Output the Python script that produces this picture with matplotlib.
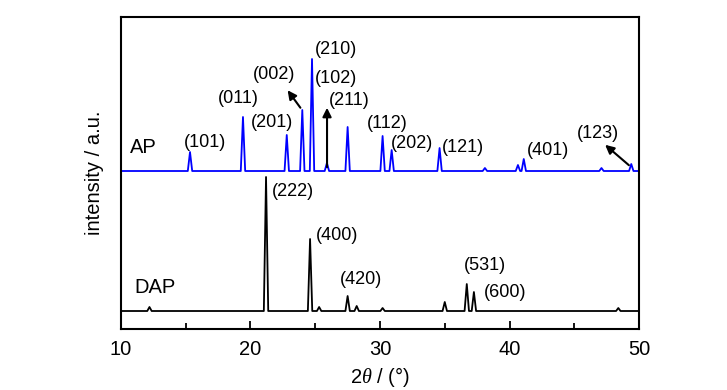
import matplotlib
matplotlib.use('Agg')
import matplotlib.pyplot as plt
from matplotlib.ticker import MultipleLocator
import numpy as np

plt.rcParams['font.family'] = ['Liberation Sans', 'DejaVu Sans']
plt.rcParams['mathtext.fontset'] = 'custom'
plt.rcParams['mathtext.it'] = 'Liberation Serif:italic'

# baselines of the two stacked patterns (arbitrary units)
ap_base = 158
dap_base = 18

# AP peaks: 2theta, height above baseline
ap_pos = [15.33, 19.42, 22.8, 24.0, 24.75, 25.9, 27.5, 30.2, 30.9, 34.6, 38.1, 40.65, 41.1, 47.1, 49.4]
ap_int = [19, 54, 36, 61, 112, 8, 44, 35, 21, 23, 3, 6, 12, 3, 7]

# DAP peaks
dap_pos = [12.2, 21.2, 24.6, 25.3, 27.5, 28.2, 30.2, 35.0, 36.7, 37.25, 48.4]
dap_int = [4, 134, 72, 4, 15, 5, 3, 9, 27, 19, 3]

ap_labels = ['(101)', '(011)', '(201)', '(002)', '(210)', '(102)', '(211)',
             '(112)', '(202)', '(121)', '(401)', '(123)']
ap_lx = [16.49, 19.03, 21.66, 21.81, 26.60, 26.60, 27.61, 30.54, 32.47, 36.41, 42.97, 46.83]
ap_ly = [187, 231, 207, 255, 280, 251, 229, 206, 186, 182, 179, 196]

dap_labels = ['(222)', '(400)', '(420)', '(531)', '(600)']
dap_lx = [23.28, 26.68, 28.53, 38.11, 39.65]
dap_ly = [138, 94, 50, 64, 37]


def stick_profile(pos, inten, base, hw=0.17):
    # narrow triangular peaks joined by a flat baseline
    xs = [10.0]
    ys = [base]
    for p, h in sorted(zip(pos, inten)):
        xs += [p - hw, p, p + hw]
        ys += [base, base + h, base]
    xs.append(50.0)
    ys.append(base)
    return np.array(xs), np.array(ys)


fig = plt.figure(figsize=(7.27, 3.9), dpi=100)
ax = fig.add_axes([0.1664, 0.1564, 0.7126, 0.8])

x, y = stick_profile(ap_pos, ap_int, ap_base)
ax.plot(x, y, color='#0000ff', lw=1.3)
x, y = stick_profile(dap_pos, dap_int, dap_base)
ax.plot(x, y, color='black', lw=1.3)

fs = 13
for t, lx, ly in zip(ap_labels, ap_lx, ap_ly):
    ax.text(lx, ly, t, fontsize=fs, ha='center', va='center')
for t, lx, ly in zip(dap_labels, dap_lx, dap_ly):
    ax.text(lx, ly, t, fontsize=fs, ha='center', va='center')
ax.text(11.70, 182, 'AP', fontsize=14.5, ha='center', va='center')
ax.text(12.63, 42, 'DAP', fontsize=14.5, ha='center', va='center')

arrow = dict(arrowstyle='-|>', color='black', lw=1.5, mutation_scale=13)
ax.annotate('', xy=(22.74, 241), xytext=(23.98, 219), arrowprops=arrow)
ax.annotate('', xy=(25.91, 224), xytext=(25.91, 159), arrowprops=arrow)
ax.annotate('', xy=(47.22, 186), xytext=(49.38, 162), arrowprops=arrow)

ax.set_xlim(10, 50)
ax.set_ylim(0, 312)
ax.xaxis.set_major_locator(MultipleLocator(10))
ax.xaxis.set_minor_locator(MultipleLocator(5))
ax.tick_params(axis='x', which='major', direction='in', length=6, width=1.3, labelsize=14.5, pad=8)
ax.tick_params(axis='x', which='minor', direction='in', length=4, width=1.3)
ax.set_yticks([])
for s in ax.spines.values():
    s.set_linewidth(1.5)

ax.set_xlabel(r'2$\it{\theta}$ / (°)', fontsize=14.5, labelpad=4)
ax.set_ylabel('intensity / a.u.', fontsize=14.5, labelpad=12)

fig.savefig('out.png', dpi=100)
